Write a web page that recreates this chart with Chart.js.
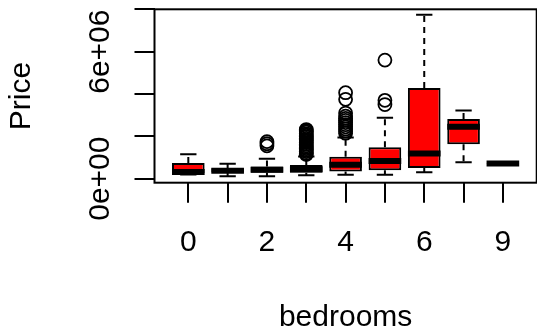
<!DOCTYPE html>
<html><head><meta charset="utf-8">
<script src="https://cdn.jsdelivr.net/npm/chart.js@4/dist/chart.umd.min.js"></script>
<style>html,body{margin:0;padding:0;overflow:hidden;background:#fff;width:537px;height:331px}canvas{display:block}</style>
</head><body>
<canvas id="c" width="545" height="331"></canvas>
<script>
// ---- data ----
const categories   = ['0','1','2','3','4','5','6','8','9'];
const xTickLabels  = ['0','','2','','4','','6','','9'];
const lowerWhisker = [0.20e6, 0.11e6, 0.11e6, 0.16e6, 0.19e6, 0.19e6, 0.30e6, 0.77e6, 0.70e6];
const q1           = [0.27e6, 0.29e6, 0.28e6, 0.28e6, 0.34e6, 0.40e6, 0.50e6, 1.63e6, 0.70e6];
const medians      = [0.31e6, 0.38e6, 0.42e6, 0.45e6, 0.66e6, 0.83e6, 1.19e6, 2.45e6, 0.72e6];
const q3           = [0.74e6, 0.49e6, 0.58e6, 0.65e6, 1.04e6, 1.48e6, 4.28e6, 2.82e6, 0.74e6];
const upperWhisker = [1.15e6, 0.70e6, 0.94e6, 1.05e6, 1.95e6, 2.88e6, 7.74e6, 3.22e6, 0.74e6];
const outliers = [
  [],
  [],
  [1.75e6, 1.65e6, 1.55e6],
  [2.32e6, 2.26e6, 2.20e6, 2.12e6, 2.05e6, 1.98e6, 1.90e6, 1.84e6, 1.78e6, 1.70e6, 1.62e6, 1.55e6, 1.48e6, 1.42e6, 1.35e6, 1.28e6, 1.20e6, 1.14e6],
  [4.06e6, 3.75e6, 3.10e6, 2.95e6, 2.85e6, 2.75e6, 2.65e6, 2.55e6, 2.45e6, 2.35e6, 2.25e6, 2.15e6],
  [5.60e6, 3.70e6, 3.50e6],
  [],
  [],
  []
];
const yTickValues = [0, 2e6, 4e6, 6e6, 8e6];
const yTickLabels = ['0e+00', '', '', '6e+06', ''];
const yMin = -190000, yMax = 8000000;
const xMin = 0.14, xMax = 9.86;

const FONT = 'Liberation Sans, Arial, Helvetica, sans-serif';

const boxData = categories.map((c, i) => ({x: i + 1, y: [q1[i], q3[i]]}));
const outlierData = [];
outliers.forEach((arr, i) => arr.forEach(v => outlierData.push({x: i + 1, y: v})));

const boxParts = {
  id: 'boxParts',
  beforeDatasetsDraw(chart) {
    const ctx = chart.ctx, ys = chart.scales.y;
    const meta = chart.getDatasetMeta(0);
    ctx.save();
    ctx.strokeStyle = '#000';
    ctx.lineWidth = 2;
    meta.data.forEach((bar, i) => {
      const x = bar.x, w = bar.width;
      const pq3 = ys.getPixelForValue(q3[i]), pq1 = ys.getPixelForValue(q1[i]);
      const phi = ys.getPixelForValue(upperWhisker[i]), plo = ys.getPixelForValue(lowerWhisker[i]);
      ctx.setLineDash([6, 5]);
      ctx.beginPath();
      if (phi < pq3) { ctx.moveTo(x, pq3); ctx.lineTo(x, phi); }
      if (plo > pq1) { ctx.moveTo(x, pq1); ctx.lineTo(x, plo); }
      ctx.stroke();
      ctx.setLineDash([]);
      ctx.beginPath();
      ctx.moveTo(x - w / 4, phi); ctx.lineTo(x + w / 4, phi);
      ctx.moveTo(x - w / 4, plo); ctx.lineTo(x + w / 4, plo);
      ctx.stroke();
    });
    ctx.restore();
  },
  afterDatasetsDraw(chart) {
    const ctx = chart.ctx, ys = chart.scales.y;
    const meta = chart.getDatasetMeta(0);
    ctx.save();
    ctx.strokeStyle = '#000';
    ctx.lineWidth = 6;
    ctx.lineCap = 'butt';
    meta.data.forEach((bar, i) => {
      const x = bar.x, w = bar.width;
      const pm = ys.getPixelForValue(medians[i]);
      ctx.beginPath();
      ctx.moveTo(x - w / 2, pm); ctx.lineTo(x + w / 2, pm);
      ctx.stroke();
    });
    ctx.restore();
  },
  afterDraw(chart) {
    const ctx = chart.ctx, a = chart.chartArea;
    ctx.save();
    ctx.strokeStyle = '#000';
    ctx.lineWidth = 2;
    ctx.strokeRect(a.left, a.top, a.right - a.left, a.bottom - a.top);
    ctx.restore();
  }
};

function zeroPad(s) { s.paddingTop = 0; s.paddingBottom = 0; s.paddingLeft = 0; s.paddingRight = 0; }

new Chart(document.getElementById('c'), {
  type: 'bar',
  data: {
    datasets: [
      {
        type: 'bar',
        data: boxData,
        backgroundColor: '#ff0000',
        borderColor: '#000',
        borderWidth: 2,
        borderSkipped: false,
        barPercentage: 0.83,
        categoryPercentage: 1.0,
        order: 2
      },
      {
        type: 'scatter',
        data: outlierData,
        showLine: false,
        pointStyle: 'circle',
        pointRadius: 6.5,
        pointBorderWidth: 1.8,
        pointBorderColor: '#000',
        pointBackgroundColor: 'rgba(0,0,0,0)',
        order: 1
      }
    ]
  },
  options: {
    responsive: false,
    animation: false,
    devicePixelRatio: 1,
    layout: {padding: {top: 9.3, left: 0, right: 4.3, bottom: 0}},
    plugins: {legend: {display: false}, tooltip: {enabled: false}, title: {display: false}},
    scales: {
      x: {
        type: 'linear', min: xMin, max: xMax, offset: false,
        afterBuildTicks: s => { s.ticks = categories.map((c, i) => ({value: i + 1})); },
        afterFit: s => { s.height = 331 - 182.7; zeroPad(s); },
        ticks: {autoSkip: false, minRotation: 0, maxRotation: 0, padding: 22, color: '#000',
                font: {family: FONT, size: 30},
                callback: (v, i) => xTickLabels[i]},
        grid: {offset: false, drawOnChartArea: false, drawTicks: true, tickLength: 20, tickColor: '#000', tickWidth: 2, lineWidth: 2, color: '#000'},
        border: {display: false},
        title: {display: true, text: 'bedrooms', color: '#000', padding: 0,
                font: {family: FONT, size: 30, lineHeight: '26px'}}
      },
      y: {
        type: 'linear', min: yMin, max: yMax,
        afterBuildTicks: s => { s.ticks = yTickValues.map(v => ({value: v})); },
        afterFit: s => { s.width = 154.5; zeroPad(s); },
        ticks: {autoSkip: false, minRotation: 90, maxRotation: 90, crossAlign: 'center', padding: -8.6, color: '#000',
                font: {family: FONT, size: 30},
                callback: (v, i) => yTickLabels[i]},
        grid: {offset: false, drawOnChartArea: false, drawTicks: true, tickLength: 20, tickColor: '#000', tickWidth: 2, lineWidth: 2, color: '#000'},
        border: {display: false},
        title: {display: true, text: 'Price', color: '#000', padding: 0,
                font: {family: FONT, size: 30, lineHeight: '44px'}}
      }
    }
  },
  plugins: [boxParts]
});
</script>
</body></html>
